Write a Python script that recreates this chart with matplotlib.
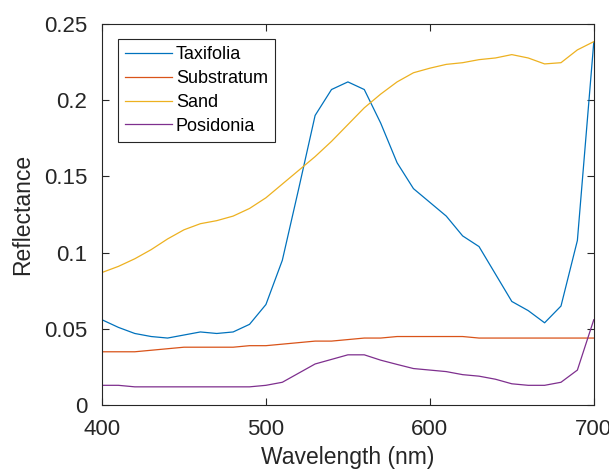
## reflectance spectra, matlab-ish look
from matplotlib import pyplot as plt

wavelength = list(range(400, 701, 10))

taxifolia = [0.056, 0.051, 0.047, 0.045, 0.044, 0.046, 0.048, 0.047, 0.048, 0.053,
             0.066, 0.095, 0.142, 0.190, 0.207, 0.212, 0.207, 0.185, 0.159, 0.142,
             0.133, 0.124, 0.111, 0.104, 0.086, 0.068, 0.062, 0.054, 0.065, 0.108,
             0.238]
substratum = [0.035, 0.035, 0.035, 0.036, 0.037, 0.038, 0.038, 0.038, 0.038, 0.039,
              0.039, 0.040, 0.041, 0.042, 0.042, 0.043, 0.044, 0.044, 0.045, 0.045,
              0.045, 0.045, 0.045, 0.044, 0.044, 0.044, 0.044, 0.044, 0.044, 0.044,
              0.044]
sand = [0.087, 0.091, 0.096, 0.102, 0.109, 0.115, 0.119, 0.121, 0.124, 0.129,
        0.136, 0.145, 0.154, 0.163, 0.173, 0.184, 0.195, 0.204, 0.212, 0.218,
        0.221, 0.2235, 0.2246, 0.2266, 0.2277, 0.2299, 0.2277, 0.2238, 0.2246, 0.233,
        0.2384]
posidonia = [0.013, 0.013, 0.012, 0.012, 0.012, 0.012, 0.012, 0.012, 0.012, 0.012,
             0.013, 0.015, 0.021, 0.027, 0.030, 0.033, 0.033, 0.0295, 0.0267, 0.024,
             0.023, 0.022, 0.020, 0.019, 0.017, 0.014, 0.013, 0.013, 0.015, 0.023,
             0.056]

names = ["Taxifolia", "Substratum", "Sand", "Posidonia"]
colors = ["#0072BD", "#D95319", "#EDB120", "#7E2F8E"]
yticks = [0, 0.05, 0.1, 0.15, 0.2, 0.25]
ytick_labels = ["0", "0.05", "0.1", "0.15", "0.2", "0.25"]
xticks = [400, 500, 600, 700]

plt.rcParams['font.family'] = ['Liberation Sans', 'DejaVu Sans']

fig = plt.figure(figsize=(6.09, 4.70), dpi=100)
ax = fig.add_axes([0.1675, 0.138, 0.8075, 0.811])

for name, ys, c in zip(names, [taxifolia, substratum, sand, posidonia], colors):
    ax.plot(wavelength, ys, color=c, linewidth=0.9, label=name)

ax.set_xlim(400, 700)
ax.set_ylim(0, 0.25)
ax.set_xticks(xticks)
ax.set_yticks(yticks)
ax.set_yticklabels(ytick_labels)
ax.tick_params(direction='in', top=True, right=True, labelsize=16,
               colors='#262626', length=5, width=0.8)
ax.tick_params(axis='x', pad=10)
ax.tick_params(axis='y', pad=10.5)
for s in ax.spines.values():
    s.set_color('#262626')
    s.set_linewidth(0.8)

ax.set_xlabel("Wavelength (nm)", fontsize=16.5, color='#262626', labelpad=4)
ax.set_ylabel("Reflectance", fontsize=16.5, color='#262626', labelpad=7)

leg = ax.legend(loc='upper left', bbox_to_anchor=(0.0325, 0.9606), fontsize=13,
                fancybox=False, framealpha=1, edgecolor='#262626',
                handlelength=2.6, borderpad=0.4, labelspacing=0.38,
                handletextpad=0.2, borderaxespad=0)
leg.get_frame().set_linewidth(0.8)

fig.savefig("out.png", dpi=100)
